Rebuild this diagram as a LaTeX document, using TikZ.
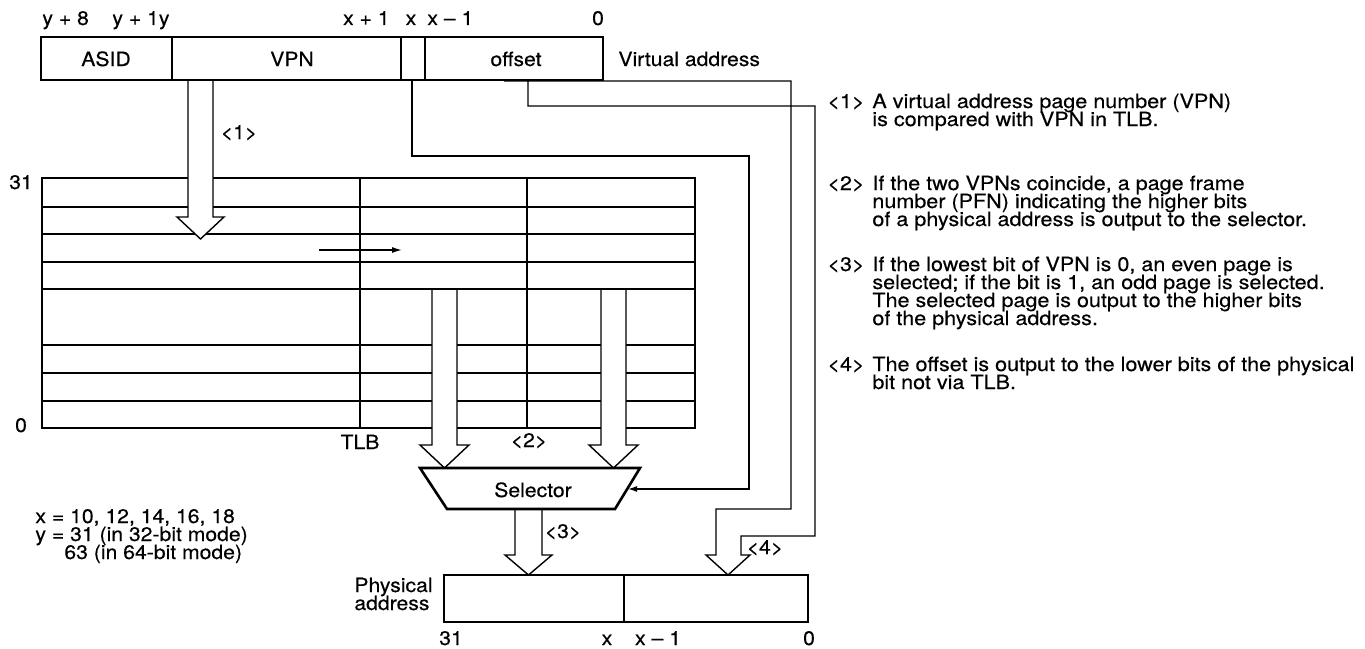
\documentclass[tikz,border=0pt]{standalone}
\usepackage{fontspec}
\setmainfont{TeX Gyre Heros}[FakeStretch=1.08, FakeBold=0.3]
\newfontfamily\notefont{TeX Gyre Heros}[FakeStretch=1.10, FakeBold=0.3]
\usetikzlibrary{arrows.meta}
\begin{document}
\begin{tikzpicture}[x=0.5pt,y=-0.5pt,
  font=\fontsize{9.8}{11}\selectfont,
  thickborder/.style={line width=1.3pt},
  thinline/.style={line width=0.6pt},
  rowline/.style={line width=0.9pt},
  fatarrow/.style={draw, fill=white, line width=0.7pt, line join=miter},
  wire/.style={line width=0.7pt, line join=miter},
  lbl/.style={inner sep=0pt, anchor=base},
  lblw/.style={inner sep=0pt, anchor=base west},
  lble/.style={inner sep=0pt, anchor=base east},
  note/.style={inner sep=0pt, anchor=base west, font=\notefont\fontsize{9.8}{11}\selectfont}]
\useasboundingbox (0,0) rectangle (1365,648);

% ---------- TLB ----------
\foreach \yy in {207,234,262,289,345,373,401}
  \draw[rowline] (42,\yy) -- (695,\yy);
\draw[thinline] (360,178) -- (360,428);
\draw[thinline] (527,178) -- (527,428);
\draw[thickborder] (42,178) rectangle (695,428);
\node[lbl] (n31) at (21,189) {31};
\node[lbl] (n0) at (21,432) {0};
\node[lbl] (tlb) at (360,449) {TLB};

% small compare arrow
\coordinate (cmpA) at (319,250);
\coordinate (cmpB) at (402,250);
\draw[line width=0.7pt, -{Latex[length=5pt,width=3pt]}] (cmpA) -- (cmpB);

% ---------- fat arrows ----------
\draw[fatarrow] (188,81) -- (188,217) -- (177,217) -- (200.5,239) -- (224,217) -- (213,217) -- (213,81);
\node[lbl] (l1) at (239,139) {<1>};

\draw[fatarrow] (432,290) -- (432,445) -- (420,445) -- (444.5,468) -- (469,445) -- (457,445) -- (457,290);
\draw[fatarrow] (601,290) -- (601,445) -- (589,445) -- (613.5,468) -- (638,445) -- (626,445) -- (626,290);
\node[lbl] (l2) at (529,447) {<2>};

\draw[fatarrow] (515,510) -- (515,555) -- (505,555) -- (528.5,575) -- (552,555) -- (542,555) -- (542,510);
\node[lbl] (l3) at (563,538) {<3>};

% ---------- virtual address ----------
\draw[thinline] (172,37) -- (172,80);
\draw[thinline] (401,37) -- (401,80);
\draw[thinline] (425,37) -- (425,80);
\draw[thickborder] (41,37) rectangle (603,80);
\node[lbl] (asid) at (106,66) {ASID};
\node[lbl] (vpn) at (292,66) {VPN};
\node[lbl] (off) at (516,66) {offset};
\node[lblw] (va) at (618,66) {Virtual address};
\node[lblw] (ty8) at (42,25) {y + 8};
\node[lblw] (ty1) at (112,25) {y + 1y};
\node[lble] (tx1) at (390,25) {x + 1};
\node[lbl] (tx) at (411,25) {x};
\node[lblw] (txm) at (427,25) {x – 1};
\node[lbl] (t0) at (598,25) {0};

% ---------- selector ----------
\draw[thickborder, fill=white, line join=miter] (420,468) -- (640,468) -- (615,509) -- (447,509) -- cycle;
\node[lbl] (sel) at (533,497) {Selector};
\coordinate (selR) at (628,489);

% bit x line to selector
\coordinate (bx) at (412,81);
\draw[wire, -{Latex[length=4.5pt,width=3pt]}] (bx) |- (749,156) |- (selR);

% offset band arrow <4>
\coordinate (oa) at (528,81);
\coordinate (ob) at (504,81);
\draw[wire] (oa) |- (815,106) |- (741,536) -- (741,555) -- (750,555) -- (728,575)
  -- (706,555) -- (716,555) |- (791,509) |- (ob);
\node[lbl] (l4) at (765,554) {<4>};

% ---------- physical address ----------
\draw[thinline] (624,575) -- (624,622);
\draw[thickborder] (444,575) rectangle (808,622);
\node[lblw] (pa1) at (354,592) {Physical};
\node[lblw] (pa2) at (354,610) {address};
\node[lbl] (b31) at (451,645) {31};
\node[lbl] (bx1) at (607,645) {x};
\node[lbl] (bxm) at (658,645) {x – 1};
\node[lbl] (b0) at (809,645) {0};

% ---------- left notes ----------
\node[lblw] (nx) at (35,523) {x = 10, 12, 14, 16, 18};
\node[lblw] (ny) at (35,541) {y = 31 (in 32-bit mode)};
\node[lblw] (ny2) at (64,559) {63 (in 64-bit mode)};

% ---------- right notes ----------
\node[note] (k1) at (827,108) {<1>};
\node[note] (k1a) at (872,108) {A virtual address page number (VPN)};
\node[note] (k1b) at (872,126) {is compared with VPN in TLB.};
\node[note] (k2) at (827,190) {<2>};
\node[note] (k2a) at (872,190) {If the two VPNs coincide, a page frame};
\node[note] (k2b) at (872,208) {number (PFN) indicating the higher bits};
\node[note] (k2c) at (872,226) {of a physical address is output to the selector.};
\node[note] (k3) at (827,271) {<3>};
\node[note] (k3a) at (872,271) {If the lowest bit of VPN is 0, an even page is};
\node[note] (k3b) at (872,289) {selected; if the bit is 1, an odd page is selected.};
\node[note] (k3c) at (872,307) {The selected page is output to the higher bits};
\node[note] (k3d) at (872,325) {of the physical address.};
\node[note] (k4) at (827,371) {<4>};
\node[note] (k4a) at (872,371) {The offset is output to the lower bits of the physical};
\node[note] (k4b) at (872,389) {bit not via TLB.};
\end{tikzpicture}
\end{document}
